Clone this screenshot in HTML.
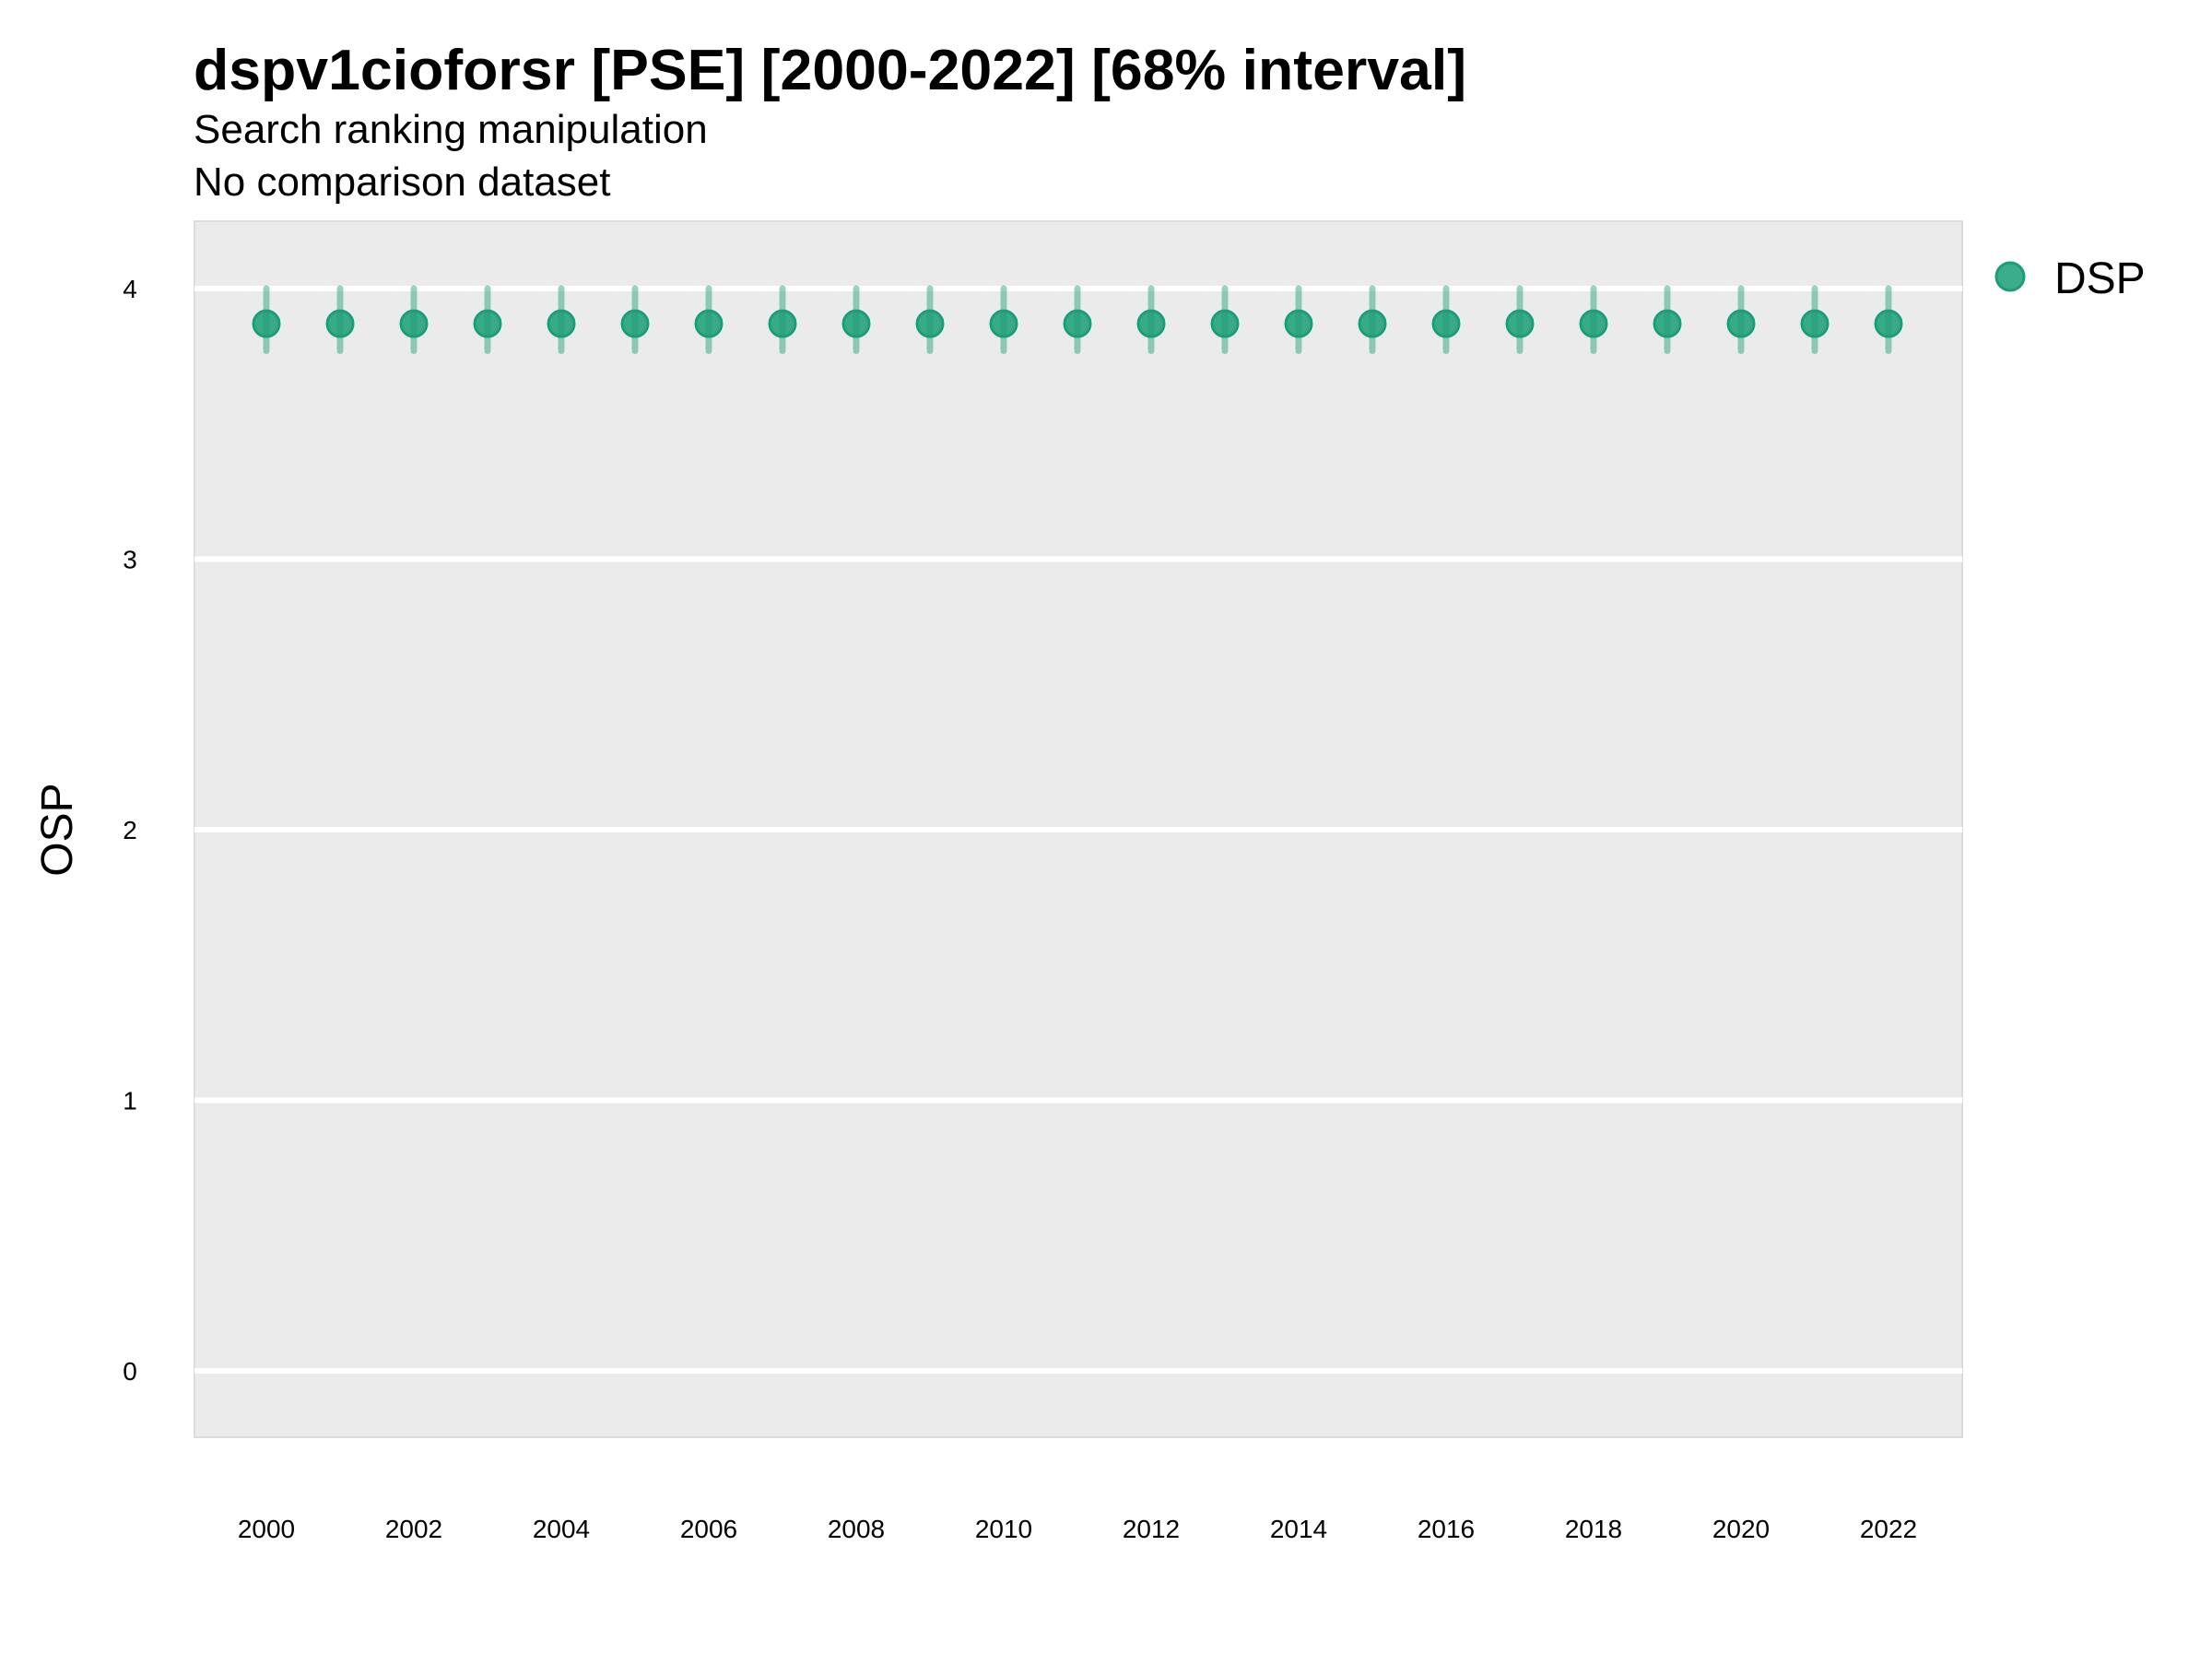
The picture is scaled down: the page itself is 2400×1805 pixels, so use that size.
<!DOCTYPE html>
<html><head><meta charset="utf-8"><style>
body{margin:0;background:#fff;}
svg text{font-family:"Liberation Sans",sans-serif;}
</style></head><body>
<svg id="chart" width="2400" height="1800" viewBox="0 0 2400 1800" xmlns="http://www.w3.org/2000/svg">
<rect width="2400" height="1800" fill="#fff"/>
<text x="210" y="97" font-size="62.6" font-weight="bold">dspv1cioforsr [PSE] [2000-2022] [68% interval]</text>
<text x="210" y="155" font-size="44">Search ranking manipulation</text>
<text x="210" y="212" font-size="44">No comparison dataset</text>
<rect x="211" y="240" width="1918" height="1319" fill="#ebebeb" stroke="#dcdcdc" stroke-width="2"/>
<g id="grid"></g><g id="yticks"></g><g id="xticks"></g><g id="marks"></g>
<text transform="translate(78,900) rotate(-90)" text-anchor="middle" font-size="48">OSP</text>
<circle cx="2181" cy="300" r="15" fill="#1b9e77" fill-opacity="0.85" stroke="#1b9e77" stroke-width="3"/>
<text x="2229" y="318" font-size="48">DSP</text>
</svg>
<script>
const years=[2000,2001,2002,2003,2004,2005,2006,2007,2008,2009,2010,2011,2012,2013,2014,2015,2016,2017,2018,2019,2020,2021,2022];
const values=[3.87,3.87,3.87,3.87,3.87,3.87,3.87,3.87,3.87,3.87,3.87,3.87,3.87,3.87,3.87,3.87,3.87,3.87,3.87,3.87,3.87,3.87,3.87];
const lower=[3.77,3.77,3.77,3.77,3.77,3.77,3.77,3.77,3.77,3.77,3.77,3.77,3.77,3.77,3.77,3.77,3.77,3.77,3.77,3.77,3.77,3.77,3.77];
const upper=[4.0,4.0,4.0,4.0,4.0,4.0,4.0,4.0,4.0,4.0,4.0,4.0,4.0,4.0,4.0,4.0,4.0,4.0,4.0,4.0,4.0,4.0,4.0];
const yTicks=[0,1,2,3,4];
const xTicks=[2000,2002,2004,2006,2008,2010,2012,2014,2016,2018,2020,2022];
const NS="http://www.w3.org/2000/svg";
function xs(v){return 289+(v-2000)*80;}
function ys(v){return 1487-v*293.5;}
function mk(tag,attrs,parent,txt){const e=document.createElementNS(NS,tag);for(const k in attrs)e.setAttribute(k,attrs[k]);if(txt!==undefined)e.textContent=txt;document.getElementById(parent).appendChild(e);return e;}
yTicks.forEach(t=>{
  const g=mk('line',{x1:211,x2:2129,y1:ys(t),y2:ys(t),stroke:'#fff','stroke-width':6},'grid');
  
  
  const l=mk('text',{x:141,y:ys(t)+10,'text-anchor':'middle','font-size':28},'yticks',String(t));
  
  
});
xTicks.forEach(t=>{
  const l=mk('text',{x:xs(t),y:1668,'text-anchor':'middle','font-size':28},'xticks',String(t));
  
  
});
years.forEach((yr,i)=>{
  const b=mk('line',{x1:xs(yr),x2:xs(yr),y1:ys(upper[i]),y2:ys(lower[i]),stroke:'#1b9e77','stroke-opacity':0.45,'stroke-width':7,'stroke-linecap':'round'},'marks');
  
  
  const c=mk('circle',{cx:xs(yr),cy:ys(values[i]),r:14,fill:'#1b9e77','fill-opacity':0.85,stroke:'#1b9e77','stroke-width':3},'marks');
  
  
});
</script>
</body></html>
